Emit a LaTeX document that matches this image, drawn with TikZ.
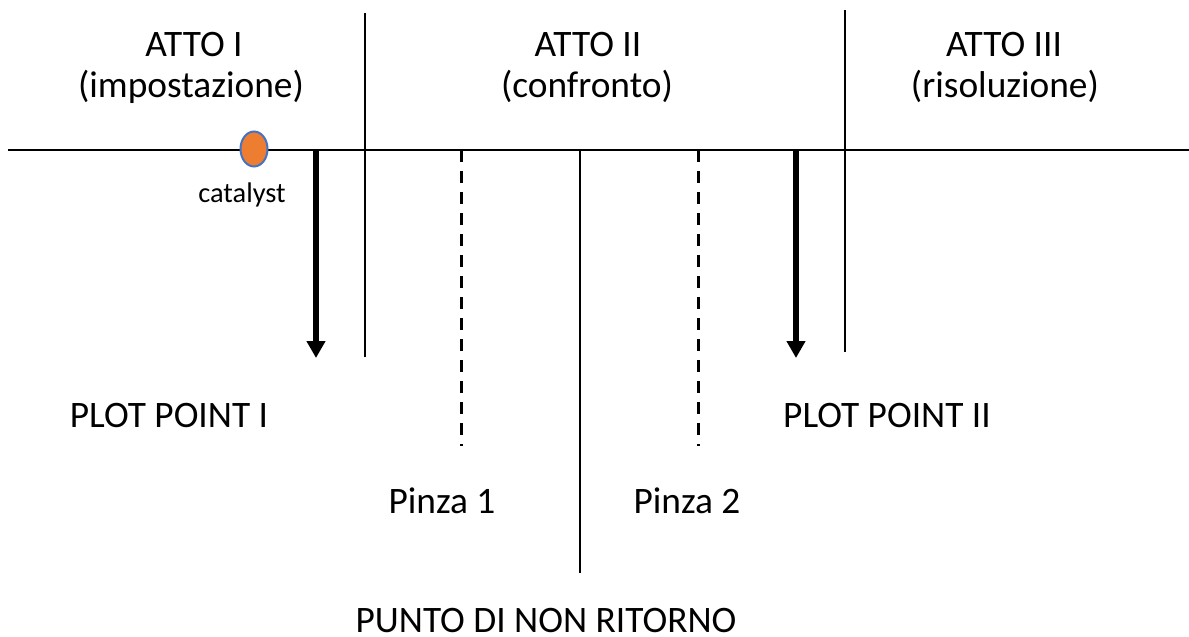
\documentclass[tikz,border=0pt]{standalone}
\usepackage{fontspec}
\setmainfont{Carlito}
\usetikzlibrary{arrows.meta,shapes.geometric}
\definecolor{catorange}{HTML}{ED7D31}
\definecolor{catblue}{HTML}{4472C4}
\tikzset{
  big/.style={font=\fontsize{37.5}{41}\selectfont, anchor=base, inner sep=0pt},
  small/.style={font=\fontsize{28.5}{32}\selectfont, anchor=base, inner sep=0pt},
  axis/.style={line width=2.8bp, black},
  divider/.style={line width=2.8bp, black},
  pinch/.style={line width=3bp, black, dash pattern=on 12bp off 9bp},
  plotarrow/.style={line width=6bp, black, -{Triangle[width=18bp,length=17bp]}},
  catdot/.style={ellipse, draw=catblue, fill=catorange, line width=2bp, minimum width=27bp, minimum height=35bp, inner sep=0pt},
}
\begin{document}
\begin{tikzpicture}[x=1bp,y=-1bp]
\useasboundingbox (0,0) rectangle (1189,637);
% coordinates
\coordinate (hL) at (8,150);
\coordinate (hR) at (1189,150);
\coordinate (d1t) at (365,13);
\coordinate (d1b) at (365,357);
\coordinate (d2t) at (845,10);
\coordinate (d2b) at (845,352);
\coordinate (mt) at (580,150);
\coordinate (mb) at (580,573);
\coordinate (p1t) at (461,150);
\coordinate (p1b) at (461,446);
\coordinate (p2t) at (698,150);
\coordinate (p2b) at (698,446);
\coordinate (a1t) at (316,150);
\coordinate (a1b) at (316,358);
\coordinate (a2t) at (796,150);
\coordinate (a2b) at (796,358);
% lines
\draw[axis] (hL) -- (hR);
\draw[divider] (d1t) -- (d1b);
\draw[divider] (d2t) -- (d2b);
\draw[divider] (mt) -- (mb);
\draw[pinch] (p1t) -- (p1b);
\draw[pinch] (p2t) -- (p2b);
\draw[plotarrow] (a1t) -- (a1b);
\draw[plotarrow] (a2t) -- (a2b);
% catalyst
\node[catdot] (cat) at (254,149) {};
\node[small] (catl) at (242,203) {catalyst};
% acts
\node[big] (a1) at (194,57) {ATTO I};
\node[big] (a1s) at (191,98) {(impostazione)};
\node[big] (a2) at (588,57) {ATTO II};
\node[big] (a2s) at (587,98) {(confronto)};
\node[big] (a3) at (1004,57) {ATTO III};
\node[big] (a3s) at (1005,98) {(risoluzione)};
% labels
\node[big] (pp1) at (169,427) {PLOT POINT I};
\node[big] (pp2) at (887,427) {PLOT POINT II};
\node[big] (pz1) at (442,513) {Pinza 1};
\node[big] (pz2) at (687,513) {Pinza 2};
\node[big] (pnr) at (546,632) {PUNTO DI NON RITORNO};
\end{tikzpicture}
\end{document}
